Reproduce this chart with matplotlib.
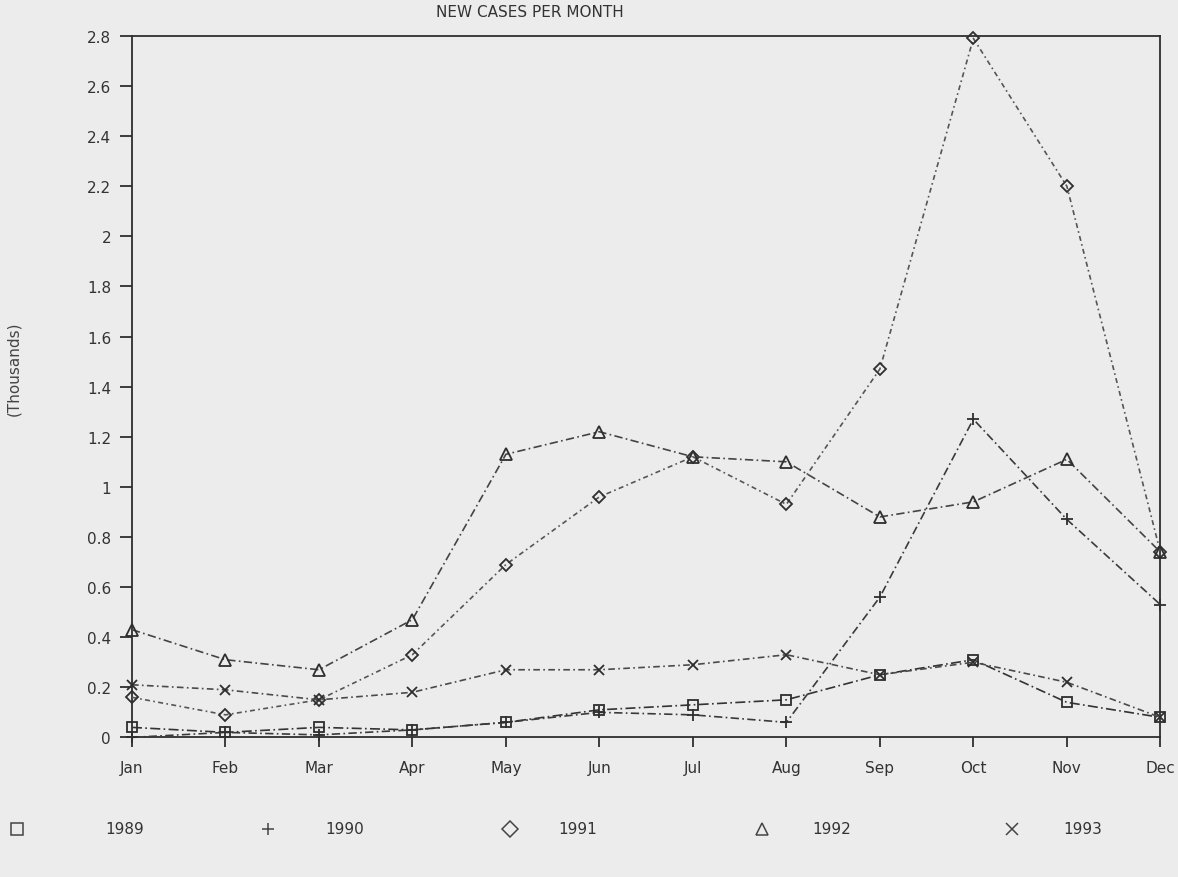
import matplotlib
matplotlib.use("Agg")
import matplotlib.pyplot as plt
from matplotlib.lines import Line2D
import numpy as np

months = ["Jan", "Feb", "Mar", "Apr", "May", "Jun", "Jul", "Aug", "Sep", "Oct", "Nov", "Dec"]
years = ["1989", "1990", "1991", "1992", "1993"]

cases_1989 = [0.04, 0.02, 0.04, 0.03, 0.06, 0.11, 0.13, 0.15, 0.25, 0.31, 0.14, 0.08]
cases_1990 = [0.00, 0.02, 0.01, 0.03, 0.06, 0.10, 0.09, 0.06, 0.56, 1.27, 0.87, 0.53]
cases_1991 = [0.16, 0.09, 0.15, 0.33, 0.69, 0.96, 1.12, 0.93, 1.47, 2.79, 2.20, 0.74]
cases_1992 = [0.43, 0.31, 0.27, 0.47, 1.13, 1.22, 1.12, 1.10, 0.88, 0.94, 1.11, 0.74]
cases_1993 = [0.21, 0.19, 0.15, 0.18, 0.27, 0.27, 0.29, 0.33, 0.25, 0.30, 0.22, 0.08]

y_ticks = [0, 0.2, 0.4, 0.6, 0.8, 1.0, 1.2, 1.4, 1.6, 1.8, 2.0, 2.2, 2.4, 2.6, 2.8]
y_tick_labels = ["0", "0.2", "0.4", "0.6", "0.8", "1", "1.2", "1.4", "1.6", "1.8",
                 "2", "2.2", "2.4", "2.6", "2.8"]

series = [cases_1989, cases_1990, cases_1991, cases_1992, cases_1993]
markers = ["s", "+", "D", "^", "x"]
msizes = [7, 9, 6, 8, 7]
dashes = [(6, 2, 1, 2), (5, 2, 1, 2), (3, 2, 1, 2), (5, 2, 1, 2), (4, 2, 1, 2)]
colors = ["#333333", "#3a3a3a", "#555555", "#444444", "#4a4a4a"]

bg = "#ececec"
ink = "#2e2e2e"

plt.rcParams["font.family"] = ["DejaVu Sans"]

fig = plt.figure(figsize=(11.78, 8.78), dpi=100, facecolor=bg)
ax = fig.add_axes([0.112, 0.159, 0.873, 0.799], facecolor=bg)

x = np.arange(len(months))
for vals, m, ms, d, c in zip(series, markers, msizes, dashes, colors):
    ax.plot(x, vals, color=c, lw=1.2, dashes=d, marker=m, markersize=ms,
            markerfacecolor="none", markeredgecolor=ink, markeredgewidth=1.3,
            clip_on=False, zorder=3)

ax.set_xlim(0, len(months) - 1)
ax.set_ylim(0, 2.8)
ax.set_xticks(x)
ax.set_xticklabels(months)
ax.set_yticks(y_ticks)
ax.set_yticklabels(y_tick_labels)

for s in ax.spines.values():
    s.set_color(ink)
    s.set_linewidth(1.3)

ax.tick_params(axis="x", direction="out", length=7, width=1.3, colors=ink,
               pad=9, labelsize=11, labelcolor="#333333")
ax.tick_params(axis="y", direction="out", length=9, width=1.3, colors=ink,
               pad=6, labelsize=11, labelcolor="#333333")

fig.text(0.45, 0.986, "NEW CASES PER MONTH", ha="center", va="center",
         fontsize=11, color="#333333")
fig.text(0.012, 0.58, "(Thousands)", rotation=90, ha="center", va="center",
         fontsize=11, color="#444444")

# legend row
marker_x = [17, 268, 510, 762, 1012]
text_x = [105, 325, 558, 812, 1063]
leg_y = 1 - 830 / 878
for mx, tx, m, yr in zip(marker_x, text_x, markers, years):
    fig.add_artist(Line2D([mx / 1178], [leg_y], marker=m, markersize=8,
                          markerfacecolor="none", markeredgecolor="#444444",
                          markeredgewidth=1.1, linestyle="none",
                          transform=fig.transFigure))
    fig.text(tx / 1178, leg_y, yr, ha="left", va="center", fontsize=11,
             color="#333333")

fig.savefig("out.png", dpi=100, facecolor=bg)
